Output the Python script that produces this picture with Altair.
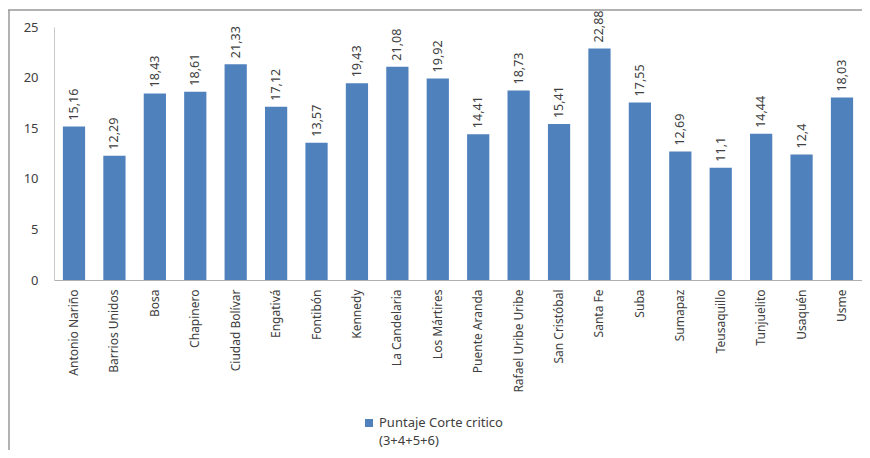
import altair as alt
import pandas as pd

localidades = ["Antonio Nariño", "Barrios Unidos", "Bosa", "Chapinero", "Ciudad Bolívar",
               "Engativá", "Fontibón", "Kennedy", "La Candelaria", "Los Mártires",
               "Puente Aranda", "Rafael Uribe Uribe", "San Cristóbal", "Santa Fe", "Suba",
               "Sumapaz", "Teusaquillo", "Tunjuelito", "Usaquén", "Usme"]
puntajes = [15.16, 12.29, 18.43, 18.61, 21.33, 17.12, 13.57, 19.43, 21.08, 19.92,
            14.41, 18.73, 15.41, 22.88, 17.55, 12.69, 11.1, 14.44, 12.4, 18.03]
serie = "Puntaje Corte critico (3+4+5+6)"
legend_lines = ["Puntaje Corte critico", "(3+4+5+6)"]
y_ticks = [0, 5, 10, 15, 20, 25]

df = pd.DataFrame({
    "localidad": localidades,
    "puntaje": puntajes,
    "etiqueta": [str(v).replace(".", ",") for v in puntajes],
})

BLUE = "#4f81bd"
TXT = "#404040"
FONT = "Noto Sans"
W, H = 808, 253

x = alt.X("localidad:N", sort=localidades,
          scale=alt.Scale(paddingInner=0.45, paddingOuter=0.22),
          axis=alt.Axis(title=None, labelAngle=-90, labelAlign="right", labelBaseline="middle",
                        labelFontSize=12, labelColor=TXT, labelFont=FONT, labelPadding=9,
                        ticks=False, domainColor="#b0b0b0", domainWidth=1))
y = alt.Y("puntaje:Q", scale=alt.Scale(domain=[0, 25], nice=False),
          axis=alt.Axis(title=None, values=y_ticks, grid=False, ticks=False,
                        labelFontSize=13, labelColor=TXT, labelFont=FONT, labelPadding=16,
                        domainColor="#c8c8c8", domainWidth=1))

bars = alt.Chart(df).mark_bar(color=BLUE).encode(x=x, y=y)
labels = alt.Chart(df).mark_text(angle=270, align="left", baseline="middle", dx=6,
                                 fontSize=12.5, color=TXT, font=FONT).encode(
    x=alt.X("localidad:N", sort=localidades), y="puntaje:Q", text="etiqueta:N")

frame_df = pd.DataFrame({"k": [0]})
top_rule = alt.Chart(frame_df).mark_rule(color="#999999", strokeWidth=1.5).encode(
    x=alt.value(-46), x2=alt.value(W + 10), y=alt.value(-17))
left_rule = alt.Chart(frame_df).mark_rule(color="#999999", strokeWidth=1.5).encode(
    x=alt.value(-45), y=alt.value(-17), y2=alt.value(H + 200))

leg_sym = alt.Chart(frame_df).mark_square(color=BLUE, size=64, opacity=1).encode(
    x=alt.value(315), y=alt.value(396))
leg_txt = alt.Chart(frame_df).mark_text(text=legend_lines, align="left", baseline="middle",
                                        fontSize=13, color=TXT, font=FONT, lineHeight=18).encode(
    x=alt.value(325), y=alt.value(396))

chart = alt.layer(top_rule, left_rule, bars, labels, leg_sym, leg_txt).properties(
    width=W, height=H,
    autosize=alt.AutoSizeParams(type="none"),
    padding={"left": 46, "top": 19, "right": 0, "bottom": 170},
).configure_view(stroke=None)

chart.save("out.html", embed_options={"renderer": "svg", "actions": False})
